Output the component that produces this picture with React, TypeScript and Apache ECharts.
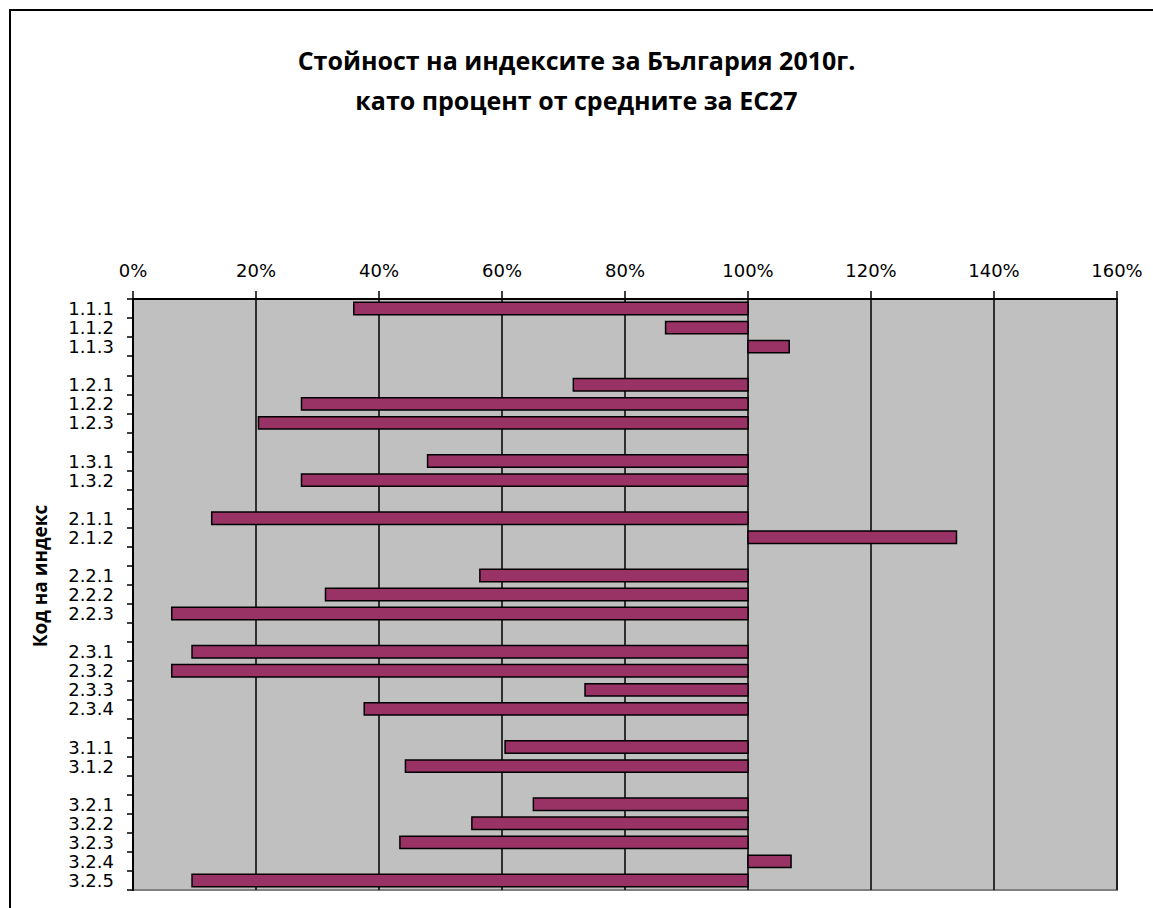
import React, { useEffect, useRef } from "react";
import * as echarts from "echarts";

const titleLines = ["Стойност на индексите за България 2010г.", "като процент от средните за ЕС27"];
const yAxisTitle = "Код на индекс";

// Category rows (blank strings are the empty spacer rows between groups)
const categories = [
  "1.1.1", "1.1.2", "1.1.3", "",
  "1.2.1", "1.2.2", "1.2.3", "",
  "1.3.1", "1.3.2", "",
  "2.1.1", "2.1.2", "",
  "2.2.1", "2.2.2", "2.2.3", "",
  "2.3.1", "2.3.2", "2.3.3", "2.3.4", "",
  "3.1.1", "3.1.2", "",
  "3.2.1", "3.2.2", "3.2.3", "3.2.4", "3.2.5",
];

// Index value in % of EU27 average (null for spacer rows)
const values: (number | null)[] = [
  35.9, 86.6, 106.7, null,
  71.6, 27.4, 20.4, null,
  47.9, 27.4, null,
  12.8, 133.9, null,
  56.4, 31.3, 6.3, null,
  9.6, 6.3, 73.5, 37.6, null,
  60.5, 44.3, null,
  65.1, 55.1, 43.4, 107.0, 9.6,
];

const baseline = 100;
const xMin = 0;
const xMax = 160;
const xStep = 20;

export default function App() {
  const ref = useRef<HTMLDivElement>(null);

  useEffect(() => {
    if (!ref.current) return;
    const chart = echarts.init(ref.current, undefined, { renderer: "svg" });

    const data: [number, number][] = [];
    values.forEach((v, i) => {
      if (v !== null) data.push([v, i]);
    });

    chart.setOption({
      animation: false,
      backgroundColor: "#ffffff",
      title: {
        text: titleLines.join("\n"),
        left: "center",
        top: 35,
        textStyle: {
          fontFamily: "Open Sans",
          fontWeight: "bold",
          fontSize: 25,
          lineHeight: 40,
          color: "#000",
        },
      },
      grid: {
        left: 133,
        top: 299,
        width: 984,
        height: 591,
        show: true,
        backgroundColor: "#C0C0C0",
        borderColor: "#808080",
        borderWidth: 2,
      },
      xAxis: {
        type: "value",
        position: "top",
        min: xMin,
        max: xMax,
        interval: xStep,
        axisLine: { show: true, lineStyle: { color: "#000", width: 2 } },
        axisTick: { show: true, inside: false, length: 8, lineStyle: { color: "#000", width: 1.5 } },
        axisLabel: {
          formatter: "{value}%",
          fontFamily: "DejaVu Sans",
          fontSize: 18,
          color: "#000",
          margin: 20,
        },
        splitLine: { show: true, lineStyle: { color: "#000", width: 1.5 } },
      },
      yAxis: {
        type: "category",
        inverse: true,
        data: categories,
        axisLine: { show: true, lineStyle: { color: "#000", width: 2 } },
        axisTick: {
          show: true,
          inside: false,
          length: 6,
          alignWithLabel: false,
          interval: 0,
          lineStyle: { color: "#000", width: 1.5 },
        },
        axisLabel: {
          interval: 0,
          fontFamily: "DejaVu Sans",
          fontSize: 18,
          color: "#000",
          margin: 19,
        },
        splitLine: { show: false },
      },
      graphic: [
        {
          type: "rect",
          shape: { x: 10, y: 10, width: 1200, height: 1000 },
          style: { fill: "none", stroke: "#000", lineWidth: 2 },
          silent: true,
        },
        {
          type: "text",
          x: 40,
          y: 576,
          rotation: Math.PI / 2,
          style: {
            text: yAxisTitle,
            fontFamily: "Open Sans",
            fontWeight: "bold",
            fontSize: 19,
            fill: "#000",
            align: "center",
            verticalAlign: "middle",
          },
        },
      ],
      series: [
        {
          type: "custom",
          data,
          encode: { x: 0, y: 1 },
          renderItem: (params: any, api: any) => {
            const v = api.value(0);
            const cat = api.value(1);
            const p0 = api.coord([baseline, cat]);
            const p1 = api.coord([v, cat]);
            const h = api.size([0, 1])[1] * 0.65;
            const x = Math.min(p0[0], p1[0]);
            const w = Math.abs(p1[0] - p0[0]);
            return {
              type: "rect",
              shape: { x, y: p0[1] - h / 2, width: w, height: h },
              style: { fill: "#993366", stroke: "#000", lineWidth: 1.5 },
            };
          },
        },
      ],
    });

    return () => chart.dispose();
  }, []);

  return (
    <div
      ref={ref}
      style={{ position: "absolute", left: 0, top: 0, width: 1153, height: 908 }}
    />
  );
}
